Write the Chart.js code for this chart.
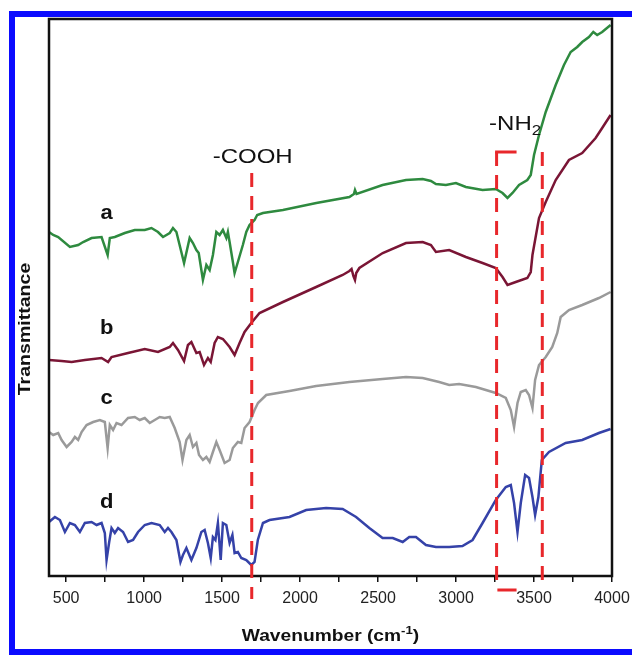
<!DOCTYPE html>
<html>
<head>
<meta charset="utf-8">
<script src="https://cdn.jsdelivr.net/npm/chart.js@4.4.0/dist/chart.umd.min.js"></script>
<style>
    body { margin: 0; background: #fff; }
    .wrap { position: relative; width: 632px; height: 656px; overflow: hidden; }
    .edge { position: absolute; left: 9px; top: 11px; width: 640px; height: 632px; border: 6px solid #0b0bff; }
</style>
</head>
<body>
<div class="wrap">
    <canvas id="ftir" width="632" height="656"></canvas>
    <div class="edge"></div>
</div>
<script>
// spectra (wavenumber in cm-1, transmittance in arbitrary units)
const waveA = [390, 417, 449, 524, 577, 609, 663, 727, 766, 780, 812, 876, 940, 1004, 1047, 1089, 1121, 1164, 1185, 1207,
    1256, 1292, 1313, 1335, 1350, 1377, 1399, 1420, 1441, 1463, 1484, 1505, 1527, 1537, 1548, 1569, 1580, 1601, 1633, 1655,
    1676, 1708, 1725, 1762, 1890, 2104, 2316, 2345, 2352, 2362, 2529, 2679, 2786, 2839, 2871, 2935, 2999, 3063, 3170, 3255,
    3298, 3330, 3362, 3404, 3457, 3479, 3500, 3532, 3575, 3639, 3692, 3735, 3777, 3809, 3852, 3880, 3905, 3937, 3991];
const transA = [344, 341, 339, 329, 331, 334, 338, 339, 321, 338, 339, 343, 346, 346, 348, 344, 339, 343, 348, 344,
    313, 338, 333, 326, 323, 296, 311, 306, 321, 344, 341, 346, 338, 344, 334, 314, 303, 314, 331, 344,
    351, 356, 361, 363, 366, 373, 379, 382, 386, 382, 391, 396, 397, 395, 392, 391, 393, 389, 386, 387,
    383, 378, 383, 391, 396, 401, 421, 441, 464, 491, 511, 524, 529, 534, 539, 544, 541, 544, 551];

const waveB = [390, 471, 535, 620, 727, 769, 791, 897, 1004, 1089, 1164, 1185, 1217, 1256, 1281, 1303, 1335, 1356, 1384, 1409,
    1427, 1452, 1473, 1505, 1527, 1548, 1580, 1612, 1644, 1687, 1740, 1890, 2103, 2273, 2316, 2330, 2342, 2352, 2360, 2380,
    2530, 2679, 2786, 2839, 2871, 2956, 3063, 3170, 3255, 3298, 3330, 3383, 3457, 3479, 3490, 3532, 3575, 3639, 3724, 3809,
    3895, 3937, 3991];
const transB = [216, 215, 214, 216, 218, 214, 219, 223, 227, 224, 229, 233, 226, 215, 231, 234, 223, 224, 211, 218,
    214, 233, 239, 237, 233, 229, 221, 233, 244, 253, 263, 274, 289, 301, 305, 307, 300, 296, 303, 308,
    323, 333, 334, 331, 324, 326, 319, 313, 308, 299, 291, 294, 298, 304, 321, 358, 374, 396, 416, 423,
    438, 448, 461];

const waveC = [390, 417, 449, 471, 503, 535, 556, 577, 599, 631, 673, 716, 748, 766, 780, 801, 823, 855, 897, 940,
    972, 1004, 1036, 1068, 1100, 1132, 1164, 1196, 1228, 1246, 1271, 1292, 1313, 1335, 1352, 1377, 1399, 1420, 1441, 1463,
    1484, 1516, 1548, 1569, 1601, 1623, 1644, 1676, 1708, 1730, 1783, 1932, 2103, 2316, 2529, 2679, 2786, 2892, 2956, 3020,
    3127, 3255, 3319, 3351, 3372, 3394, 3415, 3447, 3468, 3490, 3507, 3532, 3575, 3617, 3649, 3671, 3724, 3809, 3916, 3991];
const transC = [144, 141, 143, 136, 129, 134, 139, 136, 144, 151, 154, 156, 154, 128, 151, 146, 153, 151, 158, 159,
    156, 158, 153, 156, 159, 158, 159, 148, 134, 116, 136, 141, 129, 133, 121, 116, 119, 114, 124, 134,
    126, 113, 116, 128, 134, 133, 148, 154, 166, 173, 181, 185, 190, 194, 197, 199, 198, 194, 191, 192,
    189, 183, 178, 166, 149, 173, 184, 186, 181, 168, 196, 211, 219, 229, 243, 259, 266, 271, 278, 284];

const waveD = [390, 428, 460, 492, 524, 556, 588, 620, 663, 695, 727, 748, 759, 776, 791, 812, 833, 865, 897, 929,
    961, 1004, 1047, 1100, 1132, 1153, 1175, 1207, 1233, 1249, 1271, 1303, 1335, 1367, 1388, 1409, 1427, 1441, 1457, 1473,
    1491, 1505, 1527, 1548, 1566, 1580, 1601, 1623, 1655, 1687, 1708, 1729, 1762, 1804, 1932, 2039, 2167, 2273, 2359, 2444,
    2529, 2594, 2658, 2700, 2743, 2807, 2871, 2956, 3041, 3106, 3170, 3255, 3319, 3351, 3372, 3394, 3415, 3443, 3468, 3490,
    3507, 3528, 3550, 3596, 3703, 3809, 3916, 3991];
const transD = [54, 59, 56, 44, 53, 51, 44, 53, 54, 51, 53, 43, 16, 34, 48, 43, 48, 44, 34, 36,
    44, 51, 53, 51, 44, 48, 44, 36, 14, 21, 28, 16, 28, 44, 46, 33, 18, 39, 36, 53,
    16, 53, 51, 33, 41, 23, 24, 18, 16, 11, 14, 36, 53, 56, 59, 66, 68, 67, 59, 48,
    38, 38, 34, 39, 39, 31, 29, 29, 30, 36, 53, 76, 89, 91, 73, 44, 73, 101, 98, 79,
    61, 79, 116, 124, 133, 136, 143, 147];

const seriesNames = ['a', 'b', 'c', 'd'];
const tickValues = [500, 750, 1000, 1250, 1500, 1750, 2000, 2250, 2500, 2750, 3000, 3250, 3500, 3750, 4000];

const family = '"Liberation Sans", Arial, Helvetica, sans-serif';

const spectra = [
    { wave: waveA, trans: transA, color: '#2e8a3f' },
    { wave: waveB, trans: transB, color: '#7a1535' },
    { wave: waveC, trans: transC, color: '#9a9a9a' },
    { wave: waveD, trans: transD, color: '#3542a8' }
];

const redLine = (ctx, x1, y1, x2, y2) => {
    ctx.beginPath();
    ctx.moveTo(x1, y1);
    ctx.lineTo(x2, y2);
    ctx.stroke();
}

// text in the figure is a bit wider than the font, so stretch it sideways
const wideText = (ctx, text, x, y, sx) => {
    ctx.save();
    ctx.translate(x, y);
    ctx.scale(sx, 1);
    ctx.fillText(text, 0, 0);
    ctx.restore();
}

const overlay = {
    id: 'overlay',
    afterDatasetsDraw(chart) {
        const { ctx, chartArea: ca, scales: { x, y } } = chart;
        const X = v => x.getPixelForValue(v);
        const Y = v => y.getPixelForValue(v);
        ctx.save();

        // frame
        ctx.strokeStyle = '#111';
        ctx.lineWidth = 2.5;
        ctx.strokeRect(ca.left, ca.top, ca.right - ca.left, ca.bottom - ca.top);

        // -COOH and -NH2 markers
        ctx.strokeStyle = '#e8272b';
        ctx.lineWidth = 3;
        ctx.setLineDash([14, 9]);
        redLine(ctx, X(1690), Y(403), X(1690), Y(-23));
        redLine(ctx, X(3260), Y(424), X(3260), Y(-12));
        redLine(ctx, X(3553), Y(424), X(3553), Y(-12));
        ctx.setLineDash([]);
        redLine(ctx, X(3260) - 1.5, Y(424), X(3388), Y(424));
        redLine(ctx, X(3265), Y(-14), X(3388), Y(-14));

        // curve letters
        ctx.fillStyle = '#111';
        ctx.textAlign = 'center';
        ctx.textBaseline = 'middle';
        ctx.font = 'bold 20px ' + family;
        const letterY = [363, 248, 178, 74];
        seriesNames.forEach((n, i) => wideText(ctx, n, X(760), Y(letterY[i]), 1.1));

        // group labels
        ctx.font = '20px ' + family;
        wideText(ctx, '-COOH', X(1696), Y(419), 1.2);
        ctx.textAlign = 'left';
        wideText(ctx, '-NH', X(3212), Y(452), 1.2);
        const nhW = ctx.measureText('-NH').width * 1.2;
        ctx.font = '14px ' + family;
        wideText(ctx, '2', X(3212) + nhW, Y(452) + 7, 1.2);

        // axis titles
        const sx = 1.2;
        ctx.font = 'bold 16px ' + family;
        const main = 'Wavenumber (cm';
        const mw = ctx.measureText(main).width * sx;
        const cw = ctx.measureText(')').width * sx;
        ctx.font = 'bold 11px ' + family;
        const sw = ctx.measureText('-1').width * sx;
        let tx = (ca.left + ca.right) / 2 - (mw + sw + cw) / 2;
        ctx.font = 'bold 16px ' + family;
        wideText(ctx, main, tx, 637, sx);
        wideText(ctx, ')', tx + mw + sw, 637, sx);
        ctx.font = 'bold 11px ' + family;
        wideText(ctx, '-1', tx + mw, 631, sx);

        ctx.translate(25, 329);
        ctx.rotate(-Math.PI / 2);
        ctx.textAlign = 'center';
        ctx.font = 'bold 17px ' + family;
        wideText(ctx, 'Transmittance', 0, 0, 1.15);
        ctx.restore();
    }
};

new Chart(document.getElementById('ftir'), {
    type: 'line',
    data: {
        datasets: spectra.map((s, i) => ({
            label: seriesNames[i],
            data: s.wave.map((w, k) => ({ x: w, y: s.trans[k] })),
            borderColor: s.color,
            borderWidth: 2.5,
            pointRadius: 0,
            tension: 0,
            fill: false
        }))
    },
    options: {
        responsive: false,
        animation: false,
        devicePixelRatio: 1,
        layout: { padding: { left: 49, top: 19, right: 20, bottom: 0 } },
        plugins: { legend: { display: false }, tooltip: { enabled: false } },
        scales: {
            x: {
                type: 'linear',
                min: 390,
                max: 4000,
                afterBuildTicks: axis => { axis.ticks = tickValues.map(v => ({ value: v })); },
                afterFit: axis => {
                    axis.height = 80;
                    axis.paddingLeft = 0;
                    axis.paddingRight = 0;
                },
                border: { display: false },
                grid: { drawOnChartArea: false, color: '#111', lineWidth: 1.5, tickLength: 6 },
                ticks: {
                    autoSkip: false,
                    maxRotation: 0,
                    padding: 7,
                    color: '#222',
                    font: { family: family, size: 16 },
                    callback: v => v % 500 === 0 ? v : ''
                }
            },
            y: { display: false, min: 0, max: 557 }
        }
    },
    plugins: [overlay]
});
</script>
</body>
</html>
